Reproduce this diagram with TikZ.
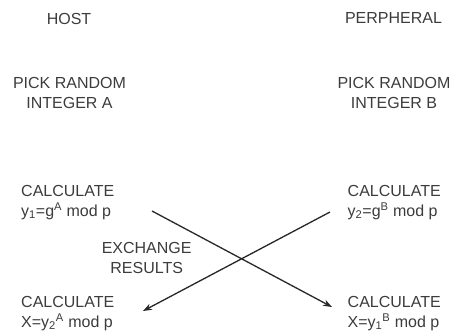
\documentclass[tikz,border=0pt]{standalone}
\usepackage{fontspec}
\setmainfont{Liberation Sans}
\usetikzlibrary{arrows.meta}
\definecolor{ink}{HTML}{3C3C3C}
\tikzset{
  lbl/.style={inner sep=0pt, text=ink, font=\fontsize{16}{20}\selectfont},
  ctr/.style={lbl, align=center, anchor=north},
  lft/.style={lbl, align=left, anchor=north west},
  xfer/.style={line width=1.3pt, draw=black!85, -{Stealth[length=9pt,width=6.5pt]}}
}
\begin{document}
\begin{tikzpicture}[x=1pt,y=-1pt]
\useasboundingbox (0,0) rectangle (451,333);
% column headings
\node[ctr] (host) at (69,12.7) {HOST};
\node[ctr] (peri) at (393.5,12.7) {PERPHERAL};
% random secrets
\node[ctr] (pickA) at (69.5,77) {PICK RANDOM\\INTEGER A};
\node[ctr] (pickB) at (394,77) {PICK RANDOM\\INTEGER B};
% public values
\node[lft] (calcA) at (21,185) {CALCULATE\\y\textsubscript{1}=g\textsuperscript{A} mod p};
\node[lft] (calcB) at (347.5,185) {CALCULATE\\y\textsubscript{2}=g\textsuperscript{B} mod p};
% exchange label
\node[ctr] (xchg) at (146.7,242) {EXCHANGE\\RESULTS};
% shared secrets
\node[lft] (keyA) at (21,296) {CALCULATE\\X=y\textsubscript{2}\textsuperscript{A} mod p};
\node[lft] (keyB) at (347.5,296) {CALCULATE\\X=y\textsubscript{1}\textsuperscript{B} mod p};
% crossing exchange arrows
\coordinate (a1) at (152,211);
\coordinate (b1) at (332,307);
\coordinate (a2) at (330,212);
\coordinate (b2) at (143,311);
\draw[xfer] (a1) -- (b1);
\draw[xfer] (a2) -- (b2);
\end{tikzpicture}
\end{document}
